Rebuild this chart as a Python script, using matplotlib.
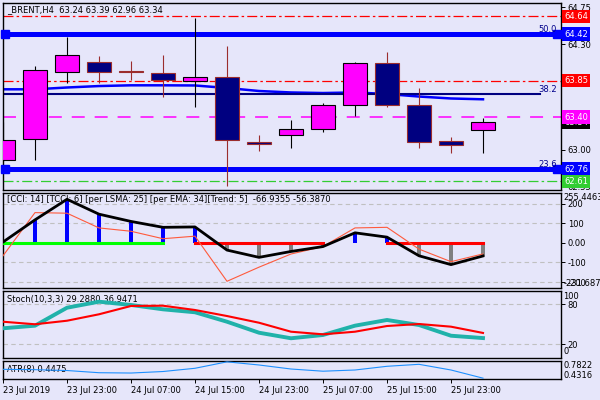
import matplotlib
matplotlib.use('Agg')
import matplotlib.pyplot as plt
import numpy as np
from matplotlib.transforms import blended_transform_factory

plt.rcParams['font.family'] = ['DejaVu Sans']
FS = 6
BG = '#E6E6FA'

# ---------------- data ----------------
symbol_title = "_BRENT,H4  63.24 63.39 62.96 63.34"
opens  = [62.87, 63.13, 63.96, 64.08, 63.965, 63.94, 63.845, 63.90, 63.095, 63.18, 63.25, 63.55, 64.07, 63.55, 63.11, 63.24]
highs  = [63.34, 64.03, 64.39, 64.15, 64.09, 64.165, 64.615, 64.275, 63.18, 63.365, 63.58, 64.08, 64.205, 63.755, 63.16, 63.39]
lows   = [62.86, 62.875, 63.825, 63.815, 63.855, 63.65, 63.525, 62.555, 62.99, 63.025, 63.22, 63.415, 63.52, 63.025, 62.965, 62.96]
closes = [63.12, 63.98, 64.17, 63.955, 63.955, 63.855, 63.90, 63.115, 63.065, 63.25, 63.55, 64.07, 63.545, 63.10, 63.055, 63.34]
ma_line = [63.743, 63.743, 63.765, 63.783, 63.792, 63.792, 63.79, 63.759, 63.722, 63.704, 63.697, 63.704, 63.685, 63.654, 63.63, 63.62]
fib_levels = [64.42, 63.685, 62.76]
fib_names = ["50.0", "38.2", "23.6"]
red_levels = [64.64, 63.85]
magenta_level = 63.40
green_level = 62.61
last_close = 63.34
price_ticks = [64.75, 64.30, 63.00, 62.55]

cci_title = "[CCI: 14] [TCCI: 6] [per LSMA: 25] [per EMA: 34][Trend: 5]  -66.9355 -56.3870"
cci_main = [4, 117, 222, 146, 109, 79, 81, -37, -74, -44, -19, 51, 29, -66, -111, -66.9355]
cci_sig  = [-66, 154, 151, 76, 59, 21, 34, -196, -124, -57, -19, 76, 79, -32, -96, -56.387]
cci_max, cci_min = 255.4463, -231.687
trend_up_segments = [(0, 5)]
trend_dn_segments = [(6, 10), (12, 15)]

stoch_title = "Stoch(10,3,3) 29.2880 36.9471"
stoch_k = [43.9, 47.8, 74.6, 83.6, 78.7, 72.2, 67.8, 53.7, 37.3, 29.0, 33.9, 47.8, 56.3, 48.8, 32.8, 29.288]
stoch_d = [53.7, 49.9, 55.2, 64.8, 77.2, 77.6, 71.2, 62.2, 52.2, 38.8, 34.9, 38.8, 47.3, 50.3, 46.3, 36.9471]

atr_title = "ATR(8) 0.4475"
atr = [0.617, 0.610, 0.594, 0.552, 0.546, 0.575, 0.637, 0.760, 0.700, 0.623, 0.581, 0.604, 0.675, 0.713, 0.604, 0.4475]
atr_max, atr_min = 0.7822, 0.4316

time_ticks = [0, 2, 4, 6, 8, 10, 12, 14]
time_labels = ["23 Jul 2019", "23 Jul 23:00", "24 Jul 07:00", "24 Jul 15:00",
               "24 Jul 23:00", "25 Jul 07:00", "25 Jul 15:00", "25 Jul 23:00"]

# ---------------- layout helpers ----------------
fig = plt.figure(figsize=(6, 4), dpi=100, facecolor=BG)
X0, X1 = 2.7, 560.7
BAR_PX, BAR0_PX = 32.0, 3.0
XL = ((X0 - BAR0_PX) / BAR_PX, (X1 - BAR0_PX) / BAR_PX)
x = np.arange(len(opens))

def axes_px(y0, y1):
    ax = fig.add_axes([X0 / 600, 1 - y1 / 400, (X1 - X0) / 600, (y1 - y0) / 400])
    ax.set_facecolor(BG)
    for s in ax.spines.values():
        s.set_color('black')
        s.set_linewidth(1.0)
    ax.set_xlim(XL)
    ax.tick_params(axis='x', bottom=False, labelbottom=False)
    ax.yaxis.tick_right()
    ax.tick_params(axis='y', direction='out', length=3, width=0.7,
                   labelsize=FS, pad=2, colors='black')
    return ax

def ftext(px, py, s, **kw):
    kw.setdefault('fontsize', FS)
    return fig.text(px / 600, 1 - py / 400, s, **kw)

# ---------------- main price panel ----------------
ax = axes_px(3, 190)
ax.set_ylim(62.5043, 64.8044)
ax.set_yticks(price_ticks)
ax.set_yticklabels([f"{v:.2f}" for v in price_ticks])

o = np.array(opens); c = np.array(closes)
bull = c >= o
body_col = np.where(bull, '#FF00FF', '#000080')
edge_col = np.where(bull, 'black', '#9B2D2D')
ax.vlines(x, lows, highs, colors=edge_col, lw=0.8, zorder=3)
ax.bar(x, np.maximum(np.abs(c - o), 0.006), bottom=np.minimum(o, c), width=0.75,
       color=body_col, edgecolor=edge_col, linewidth=0.8, zorder=4)

ax.plot(x, ma_line, color='#0000FF', lw=1.8, zorder=2)

for lv in red_levels:
    ax.axhline(lv, color='#FF0000', lw=0.9, ls=(0, (8, 2.5, 2, 2.5)), zorder=1)
ax.axhline(green_level, color='#32CD32', lw=0.9, ls=(0, (8, 2.5, 2, 2.5)), zorder=1)
ax.axhline(magenta_level, color='#FF00FF', lw=1.1, ls=(0, (8.5, 6.5)), zorder=1)

navy_end = (540 - X0) / (X1 - X0)
for lv, nm in zip(fib_levels, fib_names):
    if nm == "38.2":
        ax.axhline(lv, xmin=0, xmax=navy_end, color='#000080', lw=1.5, zorder=2)
    else:
        ax.axhline(lv, color='#0000FF', lw=3.6, zorder=2)
        ax.plot([(5 - BAR0_PX) / BAR_PX, (557 - BAR0_PX) / BAR_PX], [lv, lv], ls='none',
                marker='s', ms=6, color='#0000FF', clip_on=False, zorder=5)

tr = blended_transform_factory(ax.transAxes, ax.transData)
for lv, nm in zip(fib_levels, fib_names):
    py_off = 5.5 if nm != "38.2" else 5.0
    ax.text((557 - X0) / (X1 - X0), lv, nm, transform=tr, ha='right', va='bottom',
            fontsize=FS, color='#00008B', zorder=6)

def price_box(lv, txt, fc, z):
    ax.text(1.006, lv, txt, transform=tr, ha='left', va='center', fontsize=FS,
            color='white', clip_on=False, zorder=z,
            bbox=dict(boxstyle='square,pad=0.28', fc=fc, ec='none'))

price_box(red_levels[0], f"{red_levels[0]:.2f}", '#FF0000', 10)
price_box(fib_levels[0], f"{fib_levels[0]:.2f}", '#0000FF', 10)
price_box(red_levels[1], f"{red_levels[1]:.2f}", '#FF0000', 10)
price_box(last_close, f"{last_close:.2f}", '#000000', 10)
price_box(magenta_level, f"{magenta_level:.2f}", '#FF00FF', 11)
price_box(fib_levels[2], f"{fib_levels[2]:.2f}", '#0000FF', 10)
price_box(green_level, f"{green_level:.2f}", '#32CD32', 10)

ftext(7, 10, symbol_title, va='center', ha='left', color='black')

# ---------------- CCI panel ----------------
ax2 = axes_px(192.7, 288.3)
ax2.set_ylim(cci_min, cci_max)
cci_ticks = [200, 100, 0, -100, -200]
ax2.set_yticks(cci_ticks)
ax2.set_yticklabels(['200', '100', '0.00', '-100', '-200'])
for g in [200, 100, -100, -200]:
    ax2.axhline(g, color='#C0C0C0', lw=0.8, ls=(0, (4, 3)), zorder=0)
cm = np.array(cci_main)
hist_col = np.where(cm >= 0, '#0000FF', '#808080')
ax2.bar(x, cm, width=0.12, color=hist_col, zorder=2)
for a, b in trend_up_segments:
    ax2.plot([a, b], [0, 0], color='#00FF00', lw=2.2, zorder=3)
for a, b in trend_dn_segments:
    ax2.plot([a, b], [0, 0], color='#FF0000', lw=2.2, zorder=3)
ax2.plot(x, cci_sig, color='#FF5A3C', lw=0.8, zorder=4)
ax2.plot(x, cci_main, color='black', lw=2.0, zorder=5)
ax2.text(7 / 558 * 0 + (7 - X0) / (X1 - X0), 0.93, cci_title, transform=ax2.transAxes,
         ha='left', va='center', fontsize=FS, color='black', zorder=1)
ftext(563.5, 193.5, f"{cci_max:.4f}", va='top', ha='left', color='black')
ftext(563.5, 288.5, f"{cci_min:.3f}", va='bottom', ha='left', color='black')

# ---------------- Stochastic panel ----------------
ax3 = axes_px(290.7, 357.7)
ax3.set_ylim(0, 100)
ax3.set_yticks([80, 20])
ax3.set_yticklabels(['80', '20'])
for g in [80, 20]:
    ax3.axhline(g, color='#C0C0C0', lw=0.8, ls=(0, (4, 3)), zorder=0)
ax3.plot(x, stoch_k, color='#20B2AA', lw=2.8, zorder=3)
ax3.plot(x, stoch_d, color='#FF0000', lw=1.5, zorder=4)
ax3.text((7 - X0) / (X1 - X0), 0.87, stoch_title, transform=ax3.transAxes,
         ha='left', va='center', fontsize=FS, color='black', zorder=1)
ftext(563.5, 292, "100", va='top', ha='left', color='black')
ftext(563.5, 356, "0", va='bottom', ha='left', color='black')

# ---------------- ATR panel ----------------
ax4 = axes_px(360.7, 379)
ax4.set_ylim(atr_min, atr_max)
ax4.set_yticks([])
ax4.plot(x, atr, color='#1E90FF', lw=0.8, zorder=3)
ax4.text((7 - X0) / (X1 - X0), 0.5, atr_title, transform=ax4.transAxes,
         ha='left', va='center', fontsize=FS, color='black', zorder=1)
ftext(563.5, 361.5, f"{atr_max:.4f}", va='top', ha='left', color='black')
ftext(563.5, 379.5, f"{atr_min:.4f}", va='bottom', ha='left', color='black')
ax4.set_xticks(time_ticks)
ax4.set_xticklabels(time_labels, ha='left')
ax4.tick_params(axis='x', bottom=True, labelbottom=True, direction='out', length=3,
                width=0.7, labelsize=FS, pad=2, colors='black')

fig.savefig('out.png', dpi=100, facecolor=BG)
